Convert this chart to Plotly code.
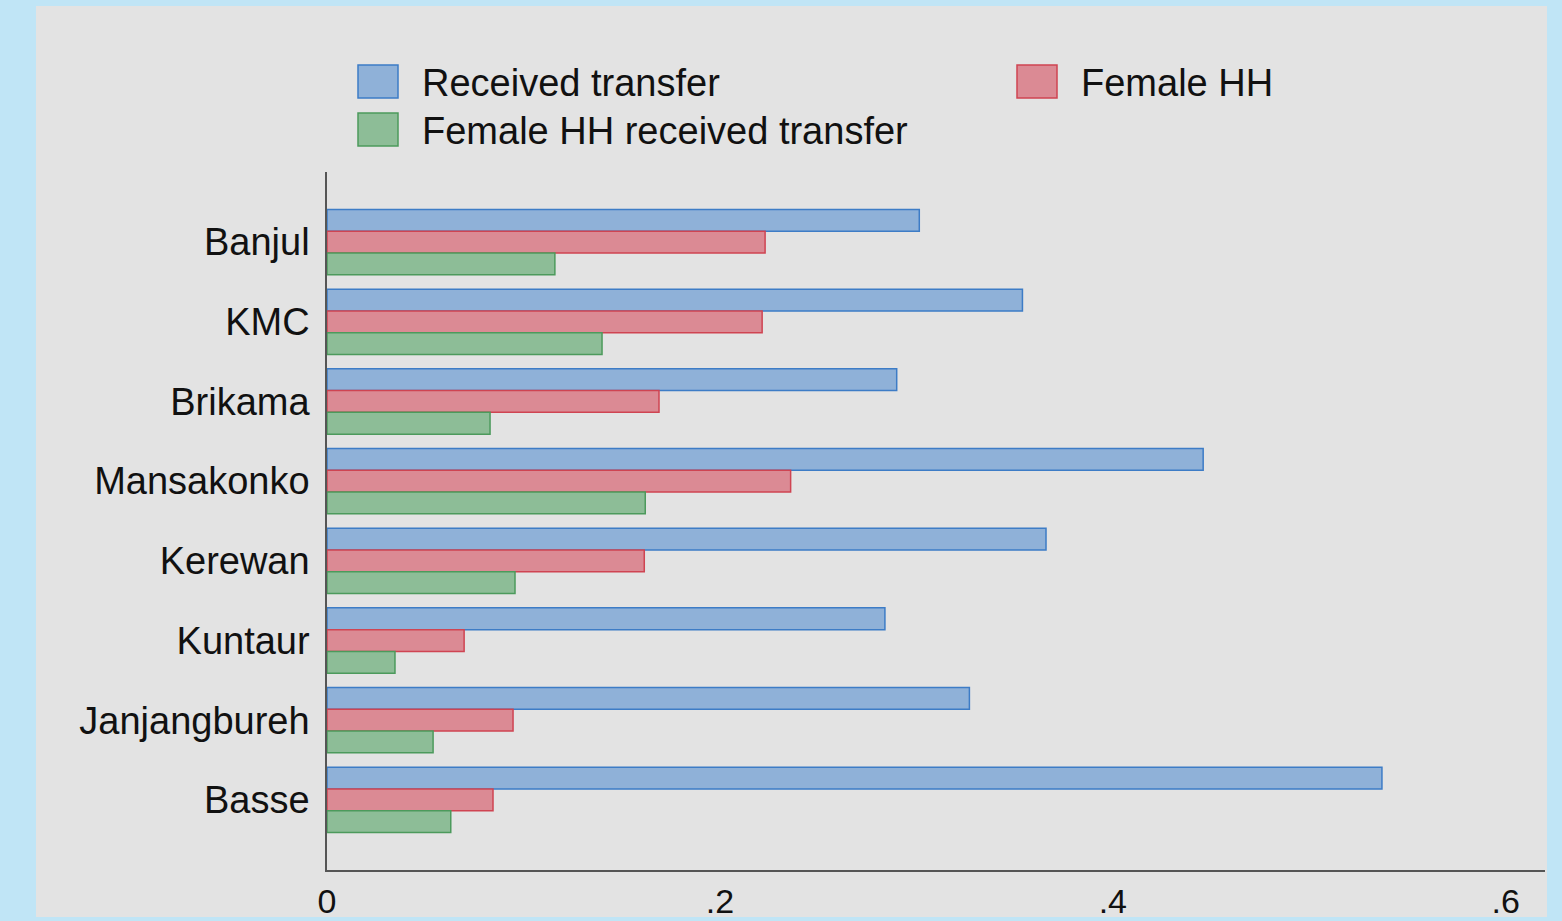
import plotly.graph_objects as go

regions = ["Banjul", "KMC", "Brikama", "Mansakonko", "Kerewan", "Kuntaur", "Janjangbureh", "Basse"]
received_transfer = [0.3015, 0.354, 0.290, 0.446, 0.366, 0.284, 0.327, 0.537]
female_hh = [0.223, 0.2215, 0.169, 0.236, 0.1615, 0.0698, 0.0947, 0.0845]
female_hh_received = [0.116, 0.140, 0.083, 0.162, 0.0957, 0.0346, 0.054, 0.063]
series_names = ["Received transfer", "Female HH", "Female HH received transfer"]
x_tickvals = [0, 0.2, 0.4, 0.6]
x_ticktext = ["0", ".2", ".4", ".6"]

fills = ["#8fb1d8", "#db8a94", "#8dbd97"]
lines = ["#3d7cc6", "#cf4452", "#4c9a5c"]
series = [received_transfer, female_hh, female_hh_received]

FONT = "Liberation Sans, Arial, sans-serif"
FS = 38
BG = "#c0e5f6"
W, H = 1562, 921
# plot area in page pixels: x 327..1545, y 172..870
L, R, T, B = 327, W - 1545, 172, H - 870
pw, ph = W - L - R, H - T - B

fig = go.Figure()
for name, vals, fc, lc in zip(series_names, series, fills, lines):
    fig.add_trace(go.Bar(
        y=regions, x=vals, name=name, orientation="h",
        marker=dict(color=fc, line=dict(color=lc, width=1.5)),
        showlegend=False,
    ))

def px2paper_x(px):
    return (px - L) / pw

def px2paper_y(py):
    return (H - B - py) / ph

shapes = [
    dict(type="rect", xref="paper", yref="paper",
         x0=px2paper_x(36), x1=px2paper_x(1547), y0=px2paper_y(917), y1=px2paper_y(6),
         fillcolor="#e3e3e3", line=dict(width=0), layer="below"),
]
annotations = []
legend_pos = [(358, 81), (1017, 81), (358, 129)]
for (lx, ly), name, fc, lc in zip(legend_pos, series_names, fills, lines):
    shapes.append(dict(type="rect", xref="paper", yref="paper",
                       x0=px2paper_x(lx), x1=px2paper_x(lx + 40),
                       y0=px2paper_y(ly + 17), y1=px2paper_y(ly - 16),
                       fillcolor=fc, line=dict(color=lc, width=1.5)))
    annotations.append(dict(xref="paper", yref="paper", x=px2paper_x(lx + 62), y=px2paper_y(ly + 2),
                            text=name, showarrow=False, xanchor="left", yanchor="middle",
                            font=dict(family=FONT, size=FS, color="#111111")))

fig.update_layout(
    width=W, height=H, autosize=False,
    margin=dict(l=L, r=R, t=T, b=B, pad=0, autoexpand=False),
    paper_bgcolor=BG,
    plot_bgcolor="rgba(0,0,0,0)",
    barmode="group", bargap=0.18, bargroupgap=0,
    shapes=shapes, annotations=annotations,
    font=dict(family=FONT, size=FS, color="#111111"),
    xaxis=dict(range=[0, 0.62], tickvals=x_tickvals, ticktext=x_ticktext,
               showgrid=False, zeroline=False, showline=True, linecolor="#555555",
               linewidth=1.5, ticks="", ticklen=0, ticklabelstandoff=0,
               automargin=False, tickfont=dict(size=34)),
    yaxis=dict(autorange=False, range=[7.88, -0.88], showgrid=False, zeroline=False,
               showline=True, linecolor="#555555", linewidth=1.5, ticks="",
               ticklabelstandoff=8, automargin=False, tickfont=dict(size=FS)),
)

fig.write_html("out.html", config={"displayModeBar": False},
               post_script="document.body.style.margin='0';document.body.style.background='" + BG + "';")
